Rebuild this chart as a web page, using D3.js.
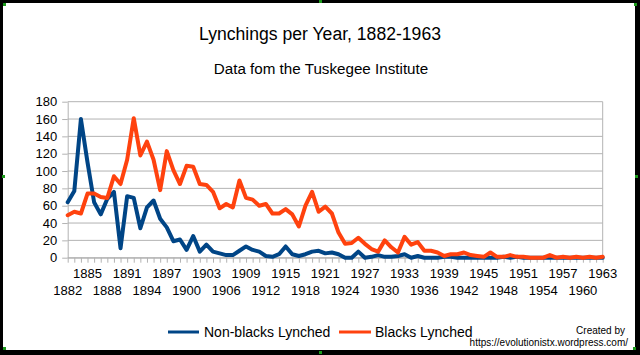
<!DOCTYPE html>
<html><head><meta charset="utf-8">
<script src="https://cdn.jsdelivr.net/npm/d3@7/dist/d3.min.js"></script>
<style>
html,body{margin:0;padding:0;background:#fff;}
svg{display:block;font-family:"Liberation Sans",Arial,sans-serif;}
</style></head>
<body><svg id="c" width="640" height="355"></svg>
<script>
const years = d3.range(1882, 1964);
const nonBlacks = [64,77,160,110,64,50,68,76,11,71,69,34,58,66,45,35,19,21,9,25,7,15,7,5,3,3,8,13,9,7,2,1,4,13,4,2,4,7,8,5,6,4,0,0,7,0,1,3,1,1,2,4,0,2,0,0,0,1,1,0,0,0,0,0,0,0,1,0,1,0,0,0,0,0,0,0,0,0,0,0,0,0];
const blacks = [49,53,51,74,74,70,69,94,85,113,161,118,134,113,78,123,101,85,106,105,85,84,76,57,62,58,89,69,67,60,62,51,51,56,50,36,60,76,53,59,51,29,16,17,23,16,10,7,20,12,6,24,15,18,8,8,6,2,4,4,6,3,2,1,6,1,1,3,1,1,0,0,0,3,0,1,0,1,0,1,0,1];
const yTicks = [0,20,40,60,80,100,120,140,160,180];
const xLabelYears = d3.range(1882, 1964, 3);
const seriesNames = ["Non-blacks Lynched", "Blacks Lynched"];
const seriesColors = ["#004586", "#ff420e"];

const svg = d3.select("#c");
const x = d3.scaleLinear().domain([1882, 1963]).range([67.7, 602.7]);
const y = d3.scaleLinear().domain([0, 180]).range([257.7, 101.7]);
const grid = "#b3b3b3";

// frame
svg.append("rect").attr("x",0).attr("y",0).attr("width",640).attr("height",355).attr("fill","#000");
svg.append("rect").attr("x",3).attr("y",3).attr("width",632).attr("height",347).attr("fill","#fff");

// gridlines
svg.append("g").selectAll("line").data(yTicks).join("line")
  .attr("x1", 67.7).attr("x2", 602.7)
  .attr("y1", d => y(d)).attr("y2", d => y(d))
  .attr("stroke", grid).attr("stroke-width", 1);
svg.append("line").attr("x1",602.7).attr("x2",602.7).attr("y1",y(180)).attr("y2",y(0)).attr("stroke",grid);

// y axis
const ya = svg.append("g").attr("transform","translate(67.7,0)")
  .call(d3.axisLeft(y).tickValues(yTicks).tickSize(5.5).tickSizeOuter(0).tickPadding(5));
ya.select(".domain").attr("stroke", grid);
ya.selectAll(".tick line").attr("stroke", grid);
ya.selectAll("text").attr("font-size", 13).attr("fill","#000").attr("font-family","Liberation Sans, Arial, sans-serif");

// x axis ticks
const xa = svg.append("g").attr("transform","translate(0,257.7)")
  .call(d3.axisBottom(x).tickValues(years).tickSize(5).tickSizeOuter(0).tickFormat(""));
xa.select(".domain").attr("stroke", grid);
xa.selectAll(".tick line").attr("stroke", grid);

// x labels staggered
svg.append("g").selectAll("text").data(xLabelYears).join("text")
  .attr("x", d => x(d))
  .attr("y", (d,i) => i % 2 === 1 ? 278 : 294.5)
  .attr("text-anchor","middle").attr("font-size",13).attr("fill","#000")
  .text(d => d);

// lines
const line = d3.line().x((d,i) => x(years[i])).y(d => y(d));
[nonBlacks, blacks].forEach((s, k) => {
  svg.append("path").datum(s).attr("d", line)
    .attr("fill","none").attr("stroke", seriesColors[k]).attr("stroke-width", 4)
    .attr("stroke-linejoin","round").attr("stroke-linecap","round");
});

// titles
svg.append("text").attr("x",320).attr("y",39.5).attr("text-anchor","middle")
  .attr("font-size",17.6).attr("fill","#000").text("Lynchings per Year, 1882-1963");
svg.append("text").attr("x",321).attr("y",73.5).attr("text-anchor","middle")
  .attr("font-size",15.2).attr("fill","#000").text("Data fom the Tuskegee Institute");

// legend
const leg = [{x1:168,x2:199,tx:204},{x1:339,x2:371,tx:375}];
leg.forEach((l,k) => {
  svg.append("line").attr("x1",l.x1).attr("x2",l.x2).attr("y1",332).attr("y2",332)
    .attr("stroke",seriesColors[k]).attr("stroke-width",3);
  svg.append("text").attr("x",l.tx).attr("y",337).attr("font-size",14).attr("fill","#000").text(seriesNames[k]);
});

// credit
svg.append("text").attr("x",625).attr("y",333.5).attr("text-anchor","end").attr("font-size",10).attr("fill","#000").text("Created by");
svg.append("text").attr("x",628).attr("y",345.5).attr("text-anchor","end").attr("font-size",10).attr("fill","#000").text("https://evolutionistx.wordpress.com/");

// selection handles
const handles = [[3,3],[634,3],[3,347],[633,347],[2,175],[635,175],[319,0],[319,351]];
svg.append("g").selectAll("rect").data(handles).join("rect")
  .attr("x", d => d[0]).attr("y", d => d[1]).attr("width",3).attr("height",3).attr("fill","#1a9a1a");
</script></body></html>
